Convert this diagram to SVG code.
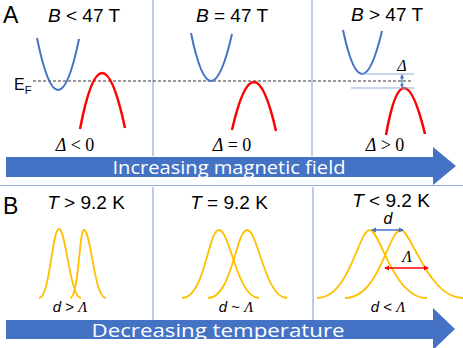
<svg xmlns="http://www.w3.org/2000/svg" width="463" height="348" viewBox="0 0 463 348">
<style>
.sans{font-family:"Liberation Sans","Open Sans",sans-serif;fill:#000}
.serif{font-family:"Liberation Serif","DejaVu Serif",serif;fill:#000}
.hdr{font-size:19px;text-anchor:middle}
.lbl{font-size:18px;text-anchor:middle}
.div{stroke:#8FAADC;stroke-width:1.2;fill:none}
.blue{stroke:#4472C4;stroke-width:2;fill:none}
.red{stroke:#FF0000;stroke-width:2.5;fill:none}
.gold{stroke:#FFC000;stroke-width:1.8;fill:none}
.big{fill:#4472C4}
.white{font-family:"Open Sans","Liberation Sans",sans-serif;fill:#fff;font-size:19px;text-anchor:middle}
.thin{stroke:#8FAADC;stroke-width:1.2;fill:none}
.dl{font-size:15px;text-anchor:middle}
</style>
<defs>
<marker id="ab" viewBox="0 0 6 6" refX="5" refY="3" markerWidth="3.5" markerHeight="3.5" orient="auto-start-reverse"><path d="M0,0 L6,3 L0,6 z" fill="#4472C4"/></marker>
<marker id="ar" viewBox="0 0 6 6" refX="5" refY="3" markerWidth="3.5" markerHeight="3.5" orient="auto-start-reverse"><path d="M0,0 L6,3 L0,6 z" fill="#FF0000"/></marker>
</defs>
<rect width="463" height="348" fill="#fff"/>

<g id="frame">
<line class="div" x1="153" y1="0" x2="153" y2="156"/>
<line class="div" x1="312" y1="0" x2="312" y2="156"/>
<line class="div" x1="0" y1="185.5" x2="463" y2="185.5"/>
<line class="div" x1="153" y1="187" x2="153" y2="320"/>
<line class="div" x1="313" y1="187" x2="313" y2="320"/>
<line x1="33" y1="81" x2="413" y2="81" stroke="#000" stroke-width="0.8" stroke-dasharray="3,2"/>
</g>

<g id="labels">
<text class="sans" x="3" y="23" font-size="23">A</text>
<text class="sans" x="3" y="214" font-size="23">B</text>
<text class="sans" x="14" y="90" font-size="16">E<tspan font-size="11" dy="4">F</tspan></text>
</g>

<g id="panelA1">
<text class="sans hdr" x="84" y="22"><tspan font-style="italic">B</tspan> &lt; 47 T</text>
<path class="blue" d="M37,38 Q58,141.5 79,39"/>
<path class="red" d="M80,129 Q101.5,17.5 125,128"/>
<text class="serif lbl" x="75" y="151"><tspan font-style="italic">Δ</tspan> &lt; 0</text>
</g>

<g id="panelA2">
<text class="sans hdr" x="232" y="22"><tspan font-style="italic">B</tspan> = 47 T</text>
<path class="blue" d="M191,33 Q210.5,128.5 232,34"/>
<path class="red" d="M232,130 Q254,33.5 276,131"/>
<text class="serif lbl" x="232" y="151"><tspan font-style="italic">Δ</tspan> = 0</text>
</g>

<g id="panelA3">
<text class="sans hdr" x="387" y="21"><tspan font-style="italic">B</tspan> &gt; 47 T</text>
<path class="blue" d="M343,30 Q361.5,117.5 382,31"/>
<path class="red" d="M386,135 Q402.5,41.5 425,134"/>
<line class="thin" x1="362" y1="74" x2="414" y2="74"/>
<line class="thin" x1="351" y1="88" x2="414" y2="88"/>
<text class="serif" x="402" y="71" font-size="16" font-style="italic" text-anchor="middle">Δ</text>
<text class="serif lbl" x="385" y="151"><tspan font-style="italic">Δ</tspan> &gt; 0</text>
</g>

<g id="arrowA">
<path class="big" d="M6,157 H433 V147 L456,166 L433,185 V177 H6 z"/>
<text class="white" x="229" y="174" textLength="233" lengthAdjust="spacingAndGlyphs">Increasing magnetic field</text>
</g>

<g id="panelB1">
<text class="sans hdr" x="86" y="209"><tspan font-style="italic">T</tspan> &gt; 9.2 K</text>
<path class="gold" d="M39,298 C50,298 52,229 59,229 C66,229 70,298 81,298"/>
<path class="gold" d="M70,298 C79,298 79,230 84,230 C91,230 94,298 106,298"/>
<text class="sans dl" x="70" y="312"><tspan font-style="italic">d</tspan> &gt; <tspan class="serif" font-style="italic">Λ</tspan></text>
</g>

<g id="panelB2">
<text class="sans hdr" x="229" y="209"><tspan font-style="italic">T</tspan> = 9.2 K</text>
<path class="gold" d="M182,298 C205,298 208,230 219,230 C230,230 237,298 259,298"/>
<path class="gold" d="M208,298 C232,298 236,230 247,230 C258,230 265,298 287,298"/>
<text class="sans dl" x="236" y="312"><tspan font-style="italic">d</tspan> ~ <tspan class="serif" font-style="italic">Λ</tspan></text>
</g>

<g id="panelB3">
<text class="sans hdr" x="391" y="207"><tspan font-style="italic">T</tspan> &lt; 9.2 K</text>
<path class="gold" d="M317,298 C350,298 358,230 370,230 C380,230 393,298 427,298"/>
<path class="gold" d="M345,298 C380,298 388,230 401,230 C411,230 428,298 463,298"/>
<text class="sans" x="388" y="224" font-size="16" font-style="italic" text-anchor="middle">d</text>
<text class="serif" x="407" y="262" font-size="16" font-style="italic" text-anchor="middle">Λ</text>
<text class="sans dl" x="388" y="312"><tspan font-style="italic">d</tspan> &lt; <tspan class="serif" font-style="italic">Λ</tspan></text>
</g>

<g id="arrowB">
<path class="big" d="M6,320 H433 V308 L455,329 L433,350 V339 H6 z"/>
<text class="white" x="218" y="337" textLength="253" lengthAdjust="spacingAndGlyphs">Decreasing temperature</text>
</g>

<g id="connectors">
<line x1="402" y1="75" x2="402" y2="87" stroke="#4472C4" stroke-width="1.2" marker-start="url(#ab)" marker-end="url(#ab)"/>
<line x1="372" y1="230" x2="403" y2="230" stroke="#4472C4" stroke-width="1.5" marker-start="url(#ab)" marker-end="url(#ab)"/>
<line x1="385" y1="268" x2="428" y2="268" stroke="#FF0000" stroke-width="1.5" marker-start="url(#ar)" marker-end="url(#ar)"/>
</g>
</svg>
